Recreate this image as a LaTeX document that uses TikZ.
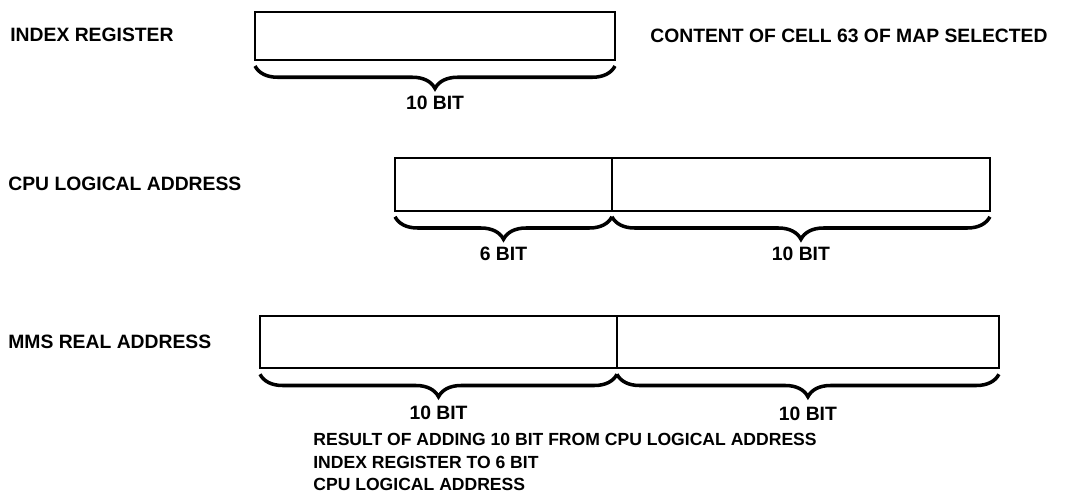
\documentclass[tikz,border=0pt]{standalone}
\usepackage{fontspec}
\setmainfont{Liberation Sans}
\usetikzlibrary{positioning, calc, decorations.pathreplacing}
\tikzset{
  field/.style = {draw, line width = 1.3pt, outer sep = 0pt, inner sep = 0pt,
    minimum height = 1.05cm},
  caption/.style = {font = \bfseries\fontsize{11}{13}\selectfont, inner sep = 0pt,
    align = left},
  note/.style = {caption, font = \bfseries\fontsize{10}{12.8}\selectfont},
  bitbrace/.style = {decorate, line width = 2pt,
    decoration = {brace, amplitude = 0.45cm, raise = 0.12cm}}
}

\begin{document}
\begin{tikzpicture}[x = 0.02cm, y = -0.02cm]
\useasboundingbox (0, 0) rectangle (1065, 495);

% index register
\node [field, minimum width = 7.2cm, minimum height = 0.96cm] (ireg) at (435, 36) {};
\node [caption, anchor = west] (iregname) at (10, 35) {INDEX REGISTER};
\node [caption, right = 0.7cm of ireg] (iregnote) {CONTENT OF CELL 63 OF MAP SELECTED};
\draw [bitbrace] (ireg.south east) -- node [caption, below = 0.68cm] {10 BIT} (ireg.south west);

% cpu logical address
\node [field, minimum width = 4.34cm] (cpuhi) at (503.5, 184.5) {};
\node [field, minimum width = 7.56cm, right = 0pt of cpuhi] (cpulo) {};
\node [caption, anchor = west] (cpuname) at (8, 184) {CPU LOGICAL ADDRESS};
\draw [bitbrace] (cpuhi.south east) -- node [caption, below = 0.68cm] {6 BIT} (cpuhi.south west);
\draw [bitbrace] (cpulo.south east) -- node [caption, below = 0.68cm] {10 BIT} (cpulo.south west);

% mms real address
\node [field, minimum width = 7.14cm] (mmshi) at (438.5, 342) {};
\node [field, minimum width = 7.64cm, right = 0pt of mmshi] (mmslo) {};
\node [caption, anchor = west] (mmsname) at (8, 342) {MMS REAL ADDRESS};
\draw [bitbrace] (mmshi.south east) -- node [caption, below = 0.72cm] {10 BIT} (mmshi.south west);
\draw [bitbrace] (mmslo.south east) -- node [caption, below = 0.74cm] {10 BIT} (mmslo.south west);
\node [note, anchor = north west] (mmsnote) at (313, 433)
  {RESULT OF ADDING 10 BIT FROM CPU LOGICAL ADDRESS\\
   INDEX REGISTER TO 6 BIT\\
   CPU LOGICAL ADDRESS};

\end{tikzpicture}
\end{document}
